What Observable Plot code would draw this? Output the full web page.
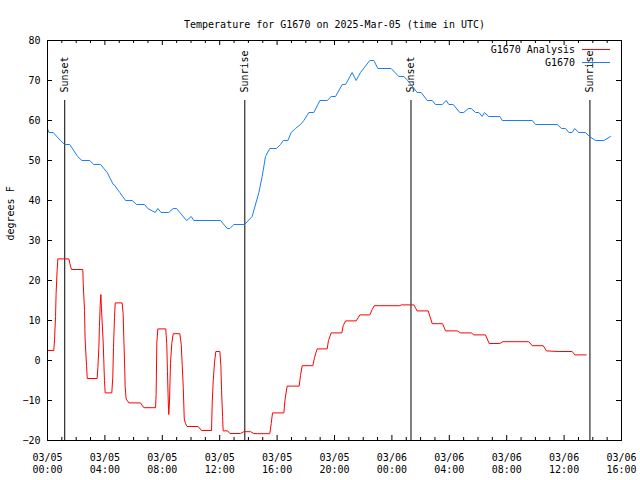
<!DOCTYPE html>
<html><head><meta charset="utf-8">
<script src="https://cdn.jsdelivr.net/npm/d3@7"></script>
<script src="https://cdn.jsdelivr.net/npm/@observablehq/plot@0.6"></script>
<style>body{margin:0;background:#fff} #chart{width:640px;height:480px}</style>
</head><body><div id="chart"></div>
<script>
// ---- data (hours after 2025-03-05 00:00 UTC, temperature in °F) ----
const titleText = "Temperature for G1670 on 2025-Mar-05 (time in UTC)";
const yLabel = "degrees F";
const seriesNames = ["G1670 Analysis", "G1670"];
const seriesColors = ["#ff0000", "#1a7ff0"];

const obsHours = [0,0.1,0.4,0.9,1.2,1.55,2.1,2.4,2.95,3.22,3.7,4.16,4.58,4.63,5.04,5.44,5.9,6.2,6.76,6.99,7.5,7.69,7.92,8.45,8.76,8.99,9.69,10.01,10.2,12.06,12.52,12.71,12.98,13.73,14.26,14.73,14.96,15.19,15.49,15.96,16.24,16.43,16.75,16.98,17.28,17.63,17.86,18.21,18.56,18.98,19.49,19.77,20.07,20.54,20.77,21.23,21.51,21.81,22.46,22.74,23.02,23.95,24.48,24.83,25.11,25.76,26.04,26.46,26.81,27.04,27.51,27.78,27.97,28.27,28.73,29.01,29.32,29.53,29.83,30.06,30.29,30.45,30.75,31.52,31.69,33.78,34.01,35.52,35.82,36.1,36.33,36.56,36.74,37.02,37.49,37.77,38.19,38.77,39.23];
const obsTemps = [58,57,57,55,54,54,51,50,50,49,49,47,44,44,42,40,40,39,39,38,37,38,37,37,38,38,35,36,35,35,33,33,34,34,36,42,46,51,53,53,54,55,55,57,58,59,60,62,62,65,65,66,66,69,69,72,70,72,75,75,73,73,71,71,70,67,67,65,65,64,64,65,64,64,62,62,63,63,62,62,61,62,61,61,60,60,59,59,58,58,57,57,58,57,57,56,55,55,56];

const anaHours = [0,0.44,0.49,0.56,0.6,0.67,0.72,1.49,1.56,1.67,2.46,2.49,2.58,2.62,2.72,2.77,3.46,3.51,3.58,3.62,3.67,3.72,3.76,3.88,3.97,4.02,4.48,4.55,4.6,4.67,4.72,5.2,5.27,5.32,5.37,5.41,5.48,5.67,6.48,6.71,7.53,7.57,7.62,7.69,8.24,8.31,8.36,8.41,8.45,8.5,8.57,8.66,8.76,9.22,9.32,9.39,9.46,9.53,9.62,9.73,10.5,10.73,11.43,11.48,11.55,11.64,11.73,12.01,12.08,12.13,12.2,12.24,12.56,12.71,13.45,13.68,14.15,14.38,14.66,15.49,15.59,15.68,16.47,16.56,16.7,17.54,17.63,17.75,18.49,18.61,18.79,19.49,19.58,19.77,20.51,20.61,20.77,21.51,21.77,22.46,22.62,22.77,24.55,24.65,25.53,25.76,26.53,26.81,27.53,27.74,28.55,28.78,29.53,29.71,30.52,30.78,31.52,31.73,33.54,33.78,34.54,34.77,35.63,36.56,36.75,37.54];
const anaTemps = [2.5,2.5,5.2,11,16.8,22.5,25.4,25.4,24.2,22.75,22.75,19.3,12.5,5.4,-1.25,-4.5,-4.5,-1.8,3.3,8.5,13.75,16.5,12.9,4.6,-5,-8.1,-8.1,-4.2,3.3,10.8,14.4,14.4,11.7,5.4,-0.4,-6.5,-9.6,-10.6,-10.6,-11.8,-11.8,-8.5,4.6,7.9,7.9,4.2,-2.7,-9.6,-13.5,-10.4,-0.8,4.2,6.7,6.7,4,-1.25,-6.7,-14.6,-15.8,-16.5,-16.5,-17.5,-17.5,-10.4,-5,-0.4,2.25,2.25,-1.25,-7.5,-14,-17.6,-17.6,-18.25,-18.25,-17.8,-17.8,-18.25,-18.3,-18.3,-15.8,-13.1,-13.1,-9.6,-6.4,-6.4,-3.75,-1.3,-1.3,0.8,2.9,2.9,5,6.9,6.9,8.75,9.9,9.9,11.4,11.4,12.7,13.7,13.7,13.9,13.9,12.4,12.4,9.2,9.2,7.4,7.4,6.9,6.9,6.4,6.4,4.25,4.25,4.7,4.7,3.7,3.7,2.4,2.25,2.25,1.4,1.4];

const sunLabels = ["Sunset", "Sunrise", "Sunset", "Sunrise"];
const sunHours = [1.2, 13.75, 25.33, 37.8];

const xDomainHours = [0, 40];
const yDomain = [-20, 80];
const yTicks = [-20, -10, 0, 10, 20, 30, 40, 50, 60, 70, 80];
const majorEveryHours = 4;

// ---- build ----
const t0 = Date.UTC(2025, 2, 5);
const toDate = h => new Date(t0 + h * 3600000);
const obs = obsHours.map((h, i) => ({t: toDate(h), v: obsTemps[i]}));
const ana = anaHours.map((h, i) => ({t: toDate(h), v: anaTemps[i]}));
const sun = sunHours.map((h, i) => ({t: toDate(h), label: sunLabels[i]}));
const hoursAll = d3.range(xDomainHours[0], xDomainHours[1] + 1);
const majorX = hoursAll.filter(h => h % majorEveryHours === 0).map(toDate);
const minorX = hoursAll.filter(h => h % majorEveryHours !== 0).map(toDate);
const fmt = d3.utcFormat("%m/%d\n%H:%M");

const W = 640, H = 480, ML = 47, MR = 19, MT = 40, MB = 40;
const fw = W - ML - MR, fh = H - MT - MB;

const chart = Plot.plot({
  width: W, height: H,
  marginLeft: ML, marginRight: MR, marginTop: MT, marginBottom: MB,
  style: {fontFamily: "DejaVu Sans Mono", fontSize: "10px", background: "white", color: "black", overflow: "visible"},
  x: {type: "utc", domain: xDomainHours.map(toDate)},
  y: {domain: yDomain},
  marks: [
    // ticks (inward, mirrored)
    Plot.tickX(majorX, {x: d => d, insetTop: fh - 5, stroke: "black"}),
    Plot.tickX(majorX, {x: d => d, insetBottom: fh - 5, stroke: "black"}),
    Plot.tickX(minorX, {x: d => d, insetTop: fh - 3, stroke: "black"}),
    Plot.tickX(minorX, {x: d => d, insetBottom: fh - 3, stroke: "black"}),
    Plot.tickY(yTicks, {y: d => d, insetRight: fw - 5, stroke: "black"}),
    Plot.tickY(yTicks, {y: d => d, insetLeft: fw - 5, stroke: "black"}),
    Plot.axisX(majorX, {tickSize: 0, tickPadding: 12, tickFormat: fmt, lineHeight: 1.2, label: null, fill: "black"}),
    Plot.axisY(yTicks, {tickSize: 0, tickPadding: 7, label: null, fill: "black"}),
    // sunrise / sunset markers
    Plot.ruleX(sun, {x: "t", y1: -20, y2: 65, stroke: "black", strokeWidth: 1}),
    Plot.text(sun, {x: "t", y: 67, text: "label", rotate: -90, textAnchor: "start", fill: "black"}),
    // series
    Plot.line(ana, {x: "t", y: "v", stroke: seriesColors[0], strokeWidth: 1}),
    Plot.line(obs, {x: "t", y: "v", stroke: seriesColors[1], strokeWidth: 1}),
    Plot.frame({stroke: "black"}),
    // title and y label
    Plot.text([titleText], {frameAnchor: "top", dy: -20, fill: "black"}),
    Plot.text([yLabel], {frameAnchor: "left", dx: -37, rotate: -90, fill: "black"})
  ]
});

// legend (inside the frame, top right)
const svg = d3.select(chart);
const lg = svg.append("g").attr("font-family", "DejaVu Sans Mono").attr("font-size", 10);
seriesNames.forEach((name, i) => {
  const y = MT + 9.5 + i * 13;
  lg.append("text").attr("x", ML + fw - 46).attr("y", y).attr("dy", "0.32em")
    .attr("text-anchor", "end").attr("fill", "black").text(name);
  lg.append("line").attr("x1", ML + fw - 39).attr("x2", ML + fw - 11)
    .attr("y1", y).attr("y2", y).attr("stroke", seriesColors[i]).attr("stroke-width", 1);
});

document.getElementById("chart").appendChild(chart);
</script>
</body></html>
